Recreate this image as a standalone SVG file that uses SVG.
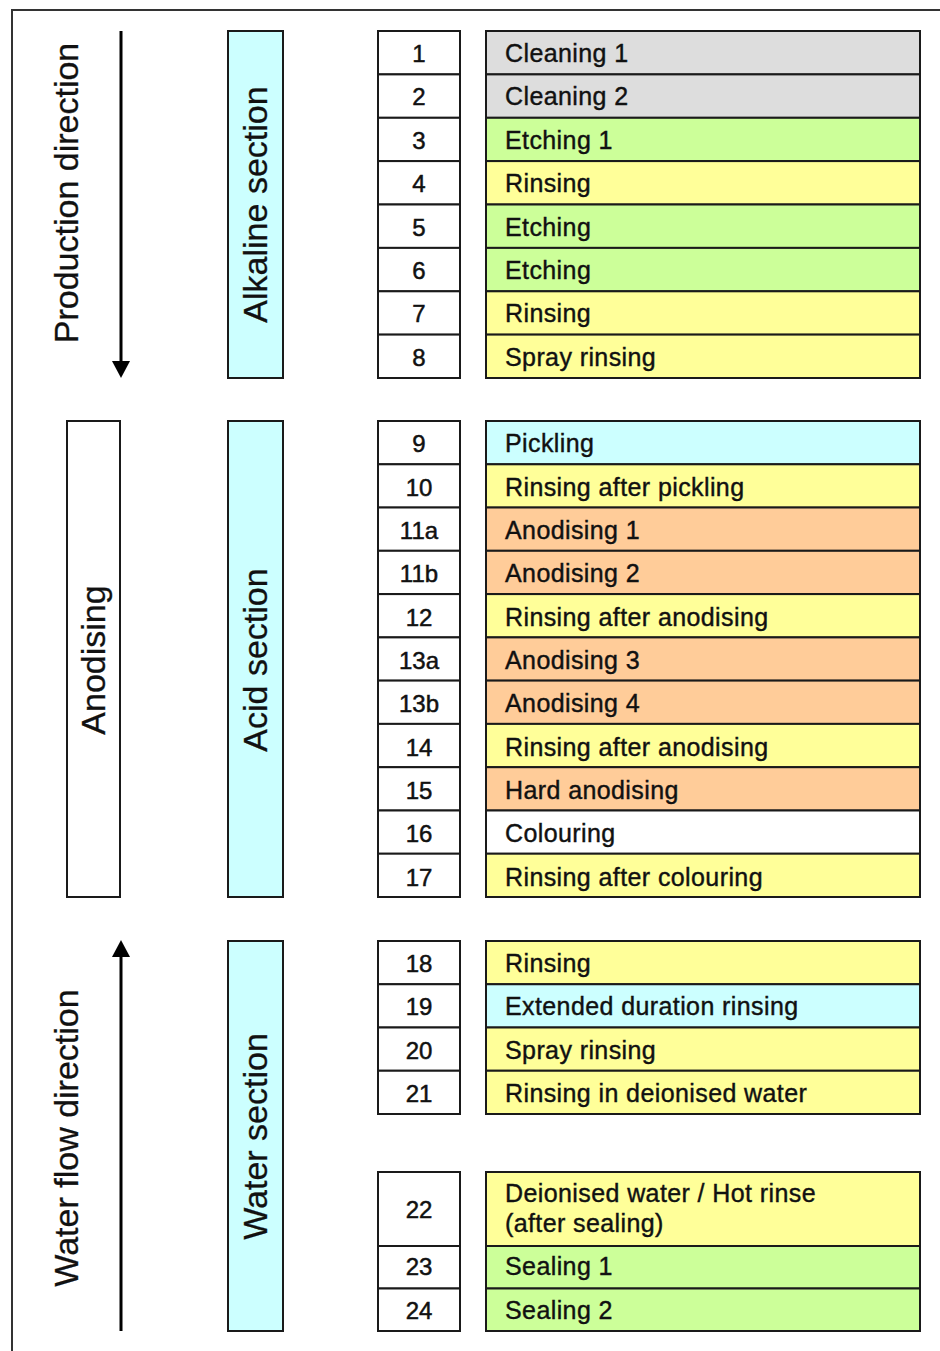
<svg xmlns="http://www.w3.org/2000/svg" width="940" height="1351" viewBox="0 0 940 1351">
<style>
.cell{stroke:#1a1a1a;stroke-width:2}
.num{fill:#fff}
.g{fill:#dddddd}.gr{fill:#ccff99}.y{fill:#ffff99}.c{fill:#ccffff}.o{fill:#ffcc99}.w{fill:#ffffff}
.t{font-family:"Liberation Sans",Arial,sans-serif;font-size:25px;letter-spacing:0.4px;fill:#111;stroke:#111;stroke-width:0.4}
.n{font-family:"Liberation Sans",Arial,sans-serif;font-size:24px;fill:#111;stroke:#111;stroke-width:0.5;text-anchor:middle}
.r{font-family:"Liberation Sans",Arial,sans-serif;font-size:34px;fill:#111;stroke:#111;stroke-width:0.3;text-anchor:middle}
.arrow{stroke:#000;stroke-width:3;fill:none}
</style>
<defs>
<marker id="ah" markerUnits="userSpaceOnUse" markerWidth="18" markerHeight="18" refX="0" refY="9" orient="auto">
<path d="M0,0 L17,9 L0,18 z" fill="#000"/>
</marker>
</defs>
<rect x="12" y="10" width="940" height="1360" fill="#fff" stroke="#333" stroke-width="2"/>

<g id="connectors">
<line class="arrow" x1="121" y1="31" x2="121" y2="361" marker-end="url(#ah)"/>
<line class="arrow" x1="121" y1="1331" x2="121" y2="957" marker-end="url(#ah)"/>
</g>

<g id="production-direction"><text class="r" transform="translate(78,193) rotate(-90)">Production direction</text></g>
<g id="water-flow-direction"><text class="r" transform="translate(78,1138) rotate(-90)">Water flow direction</text></g>

<g id="alkaline-section"><rect class="cell c" x="228" y="31" width="55" height="347"/><text class="r" transform="translate(267,204.5) rotate(-90)">Alkaline section</text></g>
<g id="acid-section"><rect class="cell c" x="228" y="421" width="55" height="476"/><text class="r" transform="translate(267,660) rotate(-90)">Acid section</text></g>
<g id="water-section"><rect class="cell c" x="228" y="941" width="55" height="390"/><text class="r" transform="translate(267,1136.5) rotate(-90)">Water section</text></g>
<g id="anodising"><rect class="cell w" x="67" y="421" width="53" height="476"/><text class="r" transform="translate(105,660) rotate(-90)">Anodising</text></g>

<g id="s1"><rect class="cell num" x="378" y="31" width="82" height="43.4"/><rect class="cell g" x="486" y="31" width="434" height="43.4"/><text class="n" x="419" y="62">1</text><text class="t" x="505" y="62">Cleaning 1</text></g>
<g id="s2"><rect class="cell num" x="378" y="74.4" width="82" height="43.4"/><rect class="cell g" x="486" y="74.4" width="434" height="43.4"/><text class="n" x="419" y="105">2</text><text class="t" x="505" y="105">Cleaning 2</text></g>
<g id="s3"><rect class="cell num" x="378" y="117.8" width="82" height="43.4"/><rect class="cell gr" x="486" y="117.8" width="434" height="43.4"/><text class="n" x="419" y="149">3</text><text class="t" x="505" y="149">Etching 1</text></g>
<g id="s4"><rect class="cell num" x="378" y="161.1" width="82" height="43.4"/><rect class="cell y" x="486" y="161.1" width="434" height="43.4"/><text class="n" x="419" y="192">4</text><text class="t" x="505" y="192">Rinsing</text></g>
<g id="s5"><rect class="cell num" x="378" y="204.5" width="82" height="43.4"/><rect class="cell gr" x="486" y="204.5" width="434" height="43.4"/><text class="n" x="419" y="235.5">5</text><text class="t" x="505" y="235.5">Etching</text></g>
<g id="s6"><rect class="cell num" x="378" y="247.9" width="82" height="43.4"/><rect class="cell gr" x="486" y="247.9" width="434" height="43.4"/><text class="n" x="419" y="279">6</text><text class="t" x="505" y="279">Etching</text></g>
<g id="s7"><rect class="cell num" x="378" y="291.3" width="82" height="43.4"/><rect class="cell y" x="486" y="291.3" width="434" height="43.4"/><text class="n" x="419" y="322">7</text><text class="t" x="505" y="322">Rinsing</text></g>
<g id="s8"><rect class="cell num" x="378" y="334.6" width="82" height="43.4"/><rect class="cell y" x="486" y="334.6" width="434" height="43.4"/><text class="n" x="419" y="365.5">8</text><text class="t" x="505" y="365.5">Spray rinsing</text></g>

<g id="s9"><rect class="cell num" x="378" y="421" width="82" height="43.3"/><rect class="cell c" x="486" y="421" width="434" height="43.3"/><text class="n" x="419" y="452">9</text><text class="t" x="505" y="452">Pickling</text></g>
<g id="s10"><rect class="cell num" x="378" y="464.3" width="82" height="43.3"/><rect class="cell y" x="486" y="464.3" width="434" height="43.3"/><text class="n" x="419" y="495.5">10</text><text class="t" x="505" y="495.5">Rinsing after pickling</text></g>
<g id="s11a"><rect class="cell num" x="378" y="507.5" width="82" height="43.3"/><rect class="cell o" x="486" y="507.5" width="434" height="43.3"/><text class="n" x="419" y="539">11a</text><text class="t" x="505" y="539">Anodising 1</text></g>
<g id="s11b"><rect class="cell num" x="378" y="550.8" width="82" height="43.3"/><rect class="cell o" x="486" y="550.8" width="434" height="43.3"/><text class="n" x="419" y="582">11b</text><text class="t" x="505" y="582">Anodising 2</text></g>
<g id="s12"><rect class="cell num" x="378" y="594.1" width="82" height="43.3"/><rect class="cell y" x="486" y="594.1" width="434" height="43.3"/><text class="n" x="419" y="625.5">12</text><text class="t" x="505" y="625.5">Rinsing after anodising</text></g>
<g id="s13a"><rect class="cell num" x="378" y="637.4" width="82" height="43.3"/><rect class="cell o" x="486" y="637.4" width="434" height="43.3"/><text class="n" x="419" y="669">13a</text><text class="t" x="505" y="669">Anodising 3</text></g>
<g id="s13b"><rect class="cell num" x="378" y="680.6" width="82" height="43.3"/><rect class="cell o" x="486" y="680.6" width="434" height="43.3"/><text class="n" x="419" y="712">13b</text><text class="t" x="505" y="712">Anodising 4</text></g>
<g id="s14"><rect class="cell num" x="378" y="723.9" width="82" height="43.3"/><rect class="cell y" x="486" y="723.9" width="434" height="43.3"/><text class="n" x="419" y="755.5">14</text><text class="t" x="505" y="755.5">Rinsing after anodising</text></g>
<g id="s15"><rect class="cell num" x="378" y="767.2" width="82" height="43.3"/><rect class="cell o" x="486" y="767.2" width="434" height="43.3"/><text class="n" x="419" y="799">15</text><text class="t" x="505" y="799">Hard anodising</text></g>
<g id="s16"><rect class="cell num" x="378" y="810.5" width="82" height="43.3"/><rect class="cell w" x="486" y="810.5" width="434" height="43.3"/><text class="n" x="419" y="842">16</text><text class="t" x="505" y="842">Colouring</text></g>
<g id="s17"><rect class="cell num" x="378" y="853.7" width="82" height="43.3"/><rect class="cell y" x="486" y="853.7" width="434" height="43.3"/><text class="n" x="419" y="885.5">17</text><text class="t" x="505" y="885.5">Rinsing after colouring</text></g>

<g id="s18"><rect class="cell num" x="378" y="941" width="82" height="43.25"/><rect class="cell y" x="486" y="941" width="434" height="43.25"/><text class="n" x="419" y="972">18</text><text class="t" x="505" y="972">Rinsing</text></g>
<g id="s19"><rect class="cell num" x="378" y="984.25" width="82" height="43.25"/><rect class="cell c" x="486" y="984.25" width="434" height="43.25"/><text class="n" x="419" y="1015">19</text><text class="t" x="505" y="1015">Extended duration rinsing</text></g>
<g id="s20"><rect class="cell num" x="378" y="1027.5" width="82" height="43.25"/><rect class="cell y" x="486" y="1027.5" width="434" height="43.25"/><text class="n" x="419" y="1058.5">20</text><text class="t" x="505" y="1058.5">Spray rinsing</text></g>
<g id="s21"><rect class="cell num" x="378" y="1070.75" width="82" height="43.25"/><rect class="cell y" x="486" y="1070.75" width="434" height="43.25"/><text class="n" x="419" y="1102">21</text><text class="t" x="505" y="1102">Rinsing in deionised water</text></g>

<g id="s22"><rect class="cell num" x="378" y="1172" width="82" height="74"/><rect class="cell y" x="486" y="1172" width="434" height="74"/><text class="n" x="419" y="1218">22</text><text class="t" x="505" y="1202">Deionised water / Hot rinse</text><text class="t" x="505" y="1232">(after sealing)</text></g>
<g id="s23"><rect class="cell num" x="378" y="1246" width="82" height="42.5"/><rect class="cell gr" x="486" y="1246" width="434" height="42.5"/><text class="n" x="419" y="1275">23</text><text class="t" x="505" y="1275">Sealing 1</text></g>
<g id="s24"><rect class="cell num" x="378" y="1288.5" width="82" height="42.5"/><rect class="cell gr" x="486" y="1288.5" width="434" height="42.5"/><text class="n" x="419" y="1319">24</text><text class="t" x="505" y="1319">Sealing 2</text></g>
</svg>
